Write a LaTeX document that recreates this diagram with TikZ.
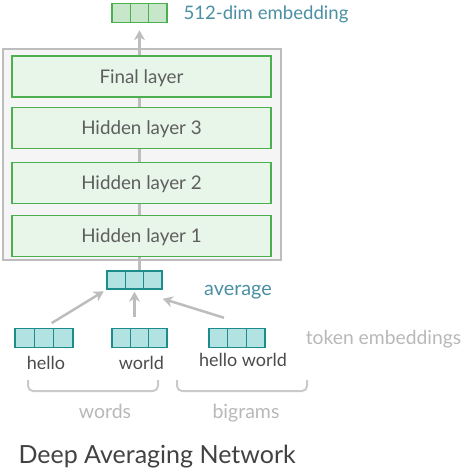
\documentclass[tikz,border=0pt]{standalone}
\usepackage{fontspec}
\setmainfont{Lato}
\usetikzlibrary{arrows.meta,calc}

\definecolor{greenline}{HTML}{4CAF50}
\definecolor{greenfill}{HTML}{E8F5E9}
\definecolor{greencell}{HTML}{C8E6C9}
\definecolor{tealline}{HTML}{1E8C8C}
\definecolor{tealcell}{HTML}{B2E2E2}
\definecolor{tealtext}{HTML}{4A8FA3}
\definecolor{textgray}{HTML}{5E5E5E}
\definecolor{lightgray}{HTML}{B8B8B8}
\definecolor{boxgray}{HTML}{BDBDBD}
\definecolor{boxfill}{HTML}{F5F5F5}

\tikzset{
    vec/.style={draw=#1, line width=1.5pt, minimum width=55pt, minimum height=19pt, inner sep=0pt,
        path picture={\foreach \k in {1,2}
            \draw[#1, line width=1.5pt] ($(path picture bounding box.south west)!\k/3!(path picture bounding box.south east)$) -- ++(0,-40);}},
    caps/.style={text depth=0pt},
    layer/.style={draw=greenline, fill=greenfill, line width=1.5pt, minimum width=259pt, minimum height=41pt,
        inner sep=0pt, caps, text=textgray, font=\fontsize{18.8}{20}\selectfont},
    arrow/.style={draw=boxgray, line width=2.5pt, -{Stealth[length=10pt, width=11pt]}},
    brace/.style={draw=boxgray!80, line width=2pt, rounded corners=5pt},
    word/.style={caps, text=textgray!80!black, font=\fontsize{18}{20}\selectfont},
}

\begin{document}
\begin{tikzpicture}[x=1pt, y=-1pt]
    \useasboundingbox (0,0) rectangle (471,473);

    \node[vec=greenline, fill=greencell] (out) at (139.5,13) {};
    \node[anchor=west, caps, text=tealtext, font=\fontsize{18.6}{20}\selectfont] (outlabel) at (180,13) {512-dim embedding};

    \node[vec=tealline, fill=tealcell, minimum height=18pt] (avg) at (134.5,280) {};
    \node[text=tealtext, font=\fontsize{19.8}{20}\selectfont] (avglabel) at (238,292) {average};

    % network box
    \node[draw=boxgray, fill=boxfill, line width=1.5pt, minimum width=278pt, minimum height=211pt] (net) at (142,154.5) {};
    \draw[arrow, shorten >=7pt] (avg.north -| out.south) -- (out.south);
    \node[layer] (final) at (141.5,76.5) {Final layer};
    \node[layer] (h3) at (141.5,128) {Hidden layer 3};
    \node[layer] (h2) at (141.5,183) {Hidden layer 2};
    \node[layer] (h1) at (141.5,236) {Hidden layer 1};

    % token embeddings
    \node[vec=tealline, fill=tealcell, minimum width=58pt] (hello) at (44,338) {};
    \node[vec=tealline, fill=tealcell] (world) at (139.5,338) {};
    \node[vec=tealline, fill=tealcell, minimum width=56pt] (bigram) at (237,338) {};
    \node[caps, text=lightgray, font=\fontsize{19.3}{20}\selectfont] (toklabel) at (383.5,337) {token embeddings};

    \draw[arrow, shorten <=9pt, shorten >=3pt] (hello.north) -- (avg.south west);
    \draw[arrow, shorten <=11pt, shorten >=2pt] (world.north -| avg.south) -- (avg.south);
    \draw[arrow] ($(bigram.north)+(-13,-10)$) -- ($(avg.south east)+(0,9)$);

    \node[word] (w1) at (46,363) {hello};
    \node[word] (w2) at (141.5,363) {world};
    \node[word] (w3) at (243,360) {hello world};

    % groups
    \draw[brace] (28,380) -- (28,391) -- (158,391) -- (158,380);
    \draw[brace] (177,380) -- (177,391) -- (307,391) -- (307,380);
    \node[caps, text=lightgray, font=\fontsize{19.5}{20}\selectfont] (words) at (105,411) {words};
    \node[caps, text=lightgray, font=\fontsize{19.5}{20}\selectfont] (bigrams) at (246,411) {bigrams};

    \node[anchor=west, caps, text=textgray!70!black, font=\fontsize{25}{28}\selectfont] (title) at (15,454) {Deep Averaging Network};
\end{tikzpicture}
\end{document}
